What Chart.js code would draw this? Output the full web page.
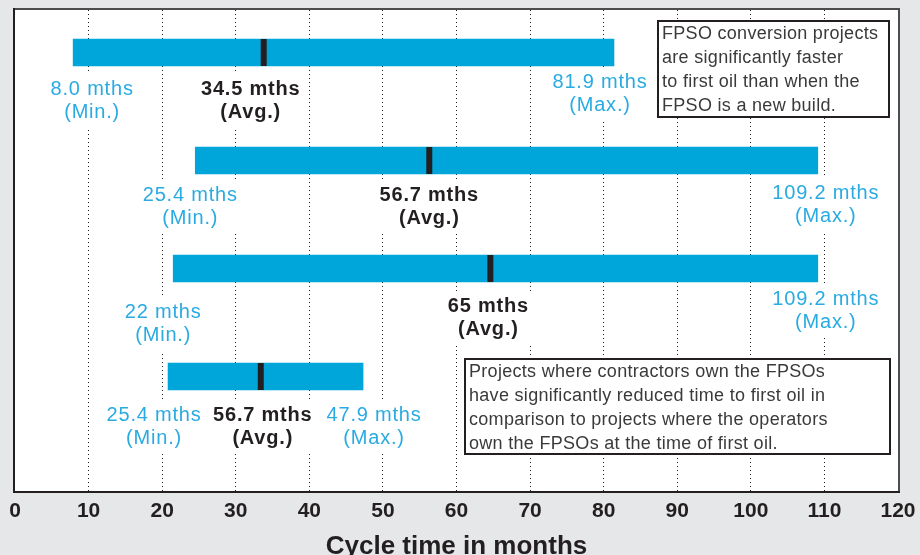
<!DOCTYPE html>
<html>
<head>
<meta charset="utf-8">
<script src="https://cdn.jsdelivr.net/npm/chart.js@4.4.1/dist/chart.umd.min.js"></script>
<style>
  html, body { margin: 0; padding: 0; background: #e6e7e8; }
  #wrap { width: 920px; height: 555px; }
</style>
</head>
<body>
<div id="wrap"><canvas id="cycle" width="920" height="555"></canvas></div>
<script>
// one row per project group, top to bottom
const rows = [0, 1, 2, 3];
const minVals = [7.9, 24.5, 21.5, 20.8];
const avgVals = [33.8, 56.3, 64.6, 33.4];
const maxVals = [81.4, 109.1, 109.1, 47.3];

const minText = ['8.0 mths', '25.4 mths', '22 mths', '25.4 mths'];
const avgText = ['34.5 mths', '56.7 mths', '65 mths', '56.7 mths'];
const maxText = ['81.9 mths', '109.2 mths', '109.2 mths', '47.9 mths'];

const xTicks = [0, 10, 20, 30, 40, 50, 60, 70, 80, 90, 100, 110, 120];

const noteTop = ['FPSO conversion projects', 'are significantly faster',
    'to first oil than when the', 'FPSO is a new build.'];
const noteBottom = ['Projects where contractors own the FPSOs',
    'have significantly reduced time to first oil in',
    'comparison to projects where the operators',
    'own the FPSOs at the time of first oil.'];

const BLUE_BAR = '#00a6da';
const BLUE_TEXT = '#29abe2';
const INK = '#231f20';
const FONT = "'Liberation Sans', Arial, sans-serif";

// hand placement of the value labels (pixels, relative to value / bar bottom)
const nudge = {
    min: [[19, 23], [-5, 21], [-10, 30], [-14, 25]],
    avg: [[-13, 23], [0, 21], [-2, 24], [2, 25]],
    max: [[-14, 16], [8, 19], [8, 17], [11, 25]]
};

const frame = {
    id: 'frame',
    beforeDraw(chart) {
        const ctx = chart.ctx, a = chart.chartArea;
        ctx.save();
        ctx.fillStyle = '#e6e7e8';
        ctx.fillRect(0, 0, chart.width, chart.height);
        ctx.fillStyle = '#ffffff';
        ctx.fillRect(a.left, a.top, a.right - a.left, a.bottom - a.top);
        ctx.restore();
    },
    afterDraw(chart) {
        const ctx = chart.ctx, a = chart.chartArea;
        ctx.save();
        ctx.lineWidth = 2;
        ctx.strokeStyle = '#4d4d4f';
        ctx.beginPath();
        ctx.moveTo(a.left - 1, a.top - 1);
        ctx.lineTo(a.right + 1, a.top - 1);
        ctx.lineTo(a.right + 1, a.bottom + 1);
        ctx.stroke();
        ctx.strokeStyle = INK;
        ctx.beginPath();
        ctx.moveTo(a.left - 1, a.top - 2);
        ctx.lineTo(a.left - 1, a.bottom + 1);
        ctx.lineTo(a.right + 2, a.bottom + 1);
        ctx.stroke();
        ctx.restore();
    }
};

function drawNote(ctx, lines, x, y, w, h, lineH) {
    ctx.fillStyle = '#ffffff';
    ctx.fillRect(x, y, w, h);
    ctx.lineWidth = 2;
    ctx.strokeStyle = INK;
    ctx.strokeRect(x, y, w, h);
    ctx.fillStyle = '#3a3a3a';
    ctx.font = '18px ' + FONT;
    ctx.textAlign = 'left';
    ctx.textBaseline = 'middle';
    ctx.letterSpacing = '0.3px';
    lines.forEach((t, i) => ctx.fillText(t, x + 4, y + 13 + i * lineH));
}

const labels = {
    id: 'labels',
    beforeDatasetsDraw(chart) {
        const ctx = chart.ctx;
        const xs = chart.scales.x, ys = chart.scales.y;
        const half = 13.5;
        ctx.save();
        ctx.textAlign = 'center';
        ctx.textBaseline = 'middle';
        const groups = [
            ['min', minVals, minText, 'Min.', BLUE_TEXT, 'normal'],
            ['avg', avgVals, avgText, 'Avg.', INK, 'bold'],
            ['max', maxVals, maxText, 'Max.', BLUE_TEXT, 'normal']
        ];
        // white knock-outs first so the dotted grid breaks behind the text
        const items = [];
        rows.forEach((r, i) => {
            const base = ys.getPixelForValue(r) + half;
            groups.forEach(([key, vals, txt, tag, color, weight]) => {
                const [dx, dy] = nudge[key][i];
                items.push({
                    x: xs.getPixelForValue(vals[i]) + dx,
                    y: base + dy,
                    a: txt[i], b: '(' + tag + ')', color, weight
                });
            });
        });
        items.forEach(it => {
            ctx.font = it.weight + ' 20px ' + FONT;
            ctx.letterSpacing = '0.8px';
            const w = Math.max(ctx.measureText(it.a).width, ctx.measureText(it.b).width);
            ctx.fillStyle = '#ffffff';
            ctx.fillRect(it.x - w / 2 - 4, it.y - 15, w + 8, 54);
        });
        items.forEach(it => {
            ctx.font = it.weight + ' 20px ' + FONT;
            ctx.letterSpacing = '0.8px';
            ctx.fillStyle = it.color;
            ctx.fillText(it.a, it.x, it.y);
            ctx.fillText(it.b, it.x, it.y + 23);
        });

        drawNote(ctx, noteTop, 658, 21, 231, 96, 24);
        drawNote(ctx, noteBottom, 465, 359, 425, 95, 24);
        ctx.restore();
    }
};

new Chart(document.getElementById('cycle'), {
    type: 'bar',
    data: {
        datasets: [
            {
                type: 'bar',
                data: rows.map((r, i) => ({ x: [minVals[i], maxVals[i]], y: r })),
                backgroundColor: BLUE_BAR,
                borderWidth: 0,
                borderSkipped: false,
                barThickness: 27,
                order: 2
            },
            {
                type: 'scatter',
                data: rows.map((r, i) => ({ x: avgVals[i], y: r })),
                pointStyle: 'line',
                rotation: 90,
                radius: 13.5,
                borderWidth: 6,
                borderColor: INK,
                backgroundColor: INK,
                order: 1
            }
        ]
    },
    options: {
        indexAxis: 'y',
        responsive: false,
        animation: false,
        devicePixelRatio: 1,
        layout: { autoPadding: false, padding: { left: 15, right: 22, top: 10, bottom: 0 } },
        plugins: {
            legend: { display: false },
            tooltip: { enabled: false }
        },
        scales: {
            x: {
                type: 'linear',
                offset: false,
                min: 0,
                max: 120,
                afterBuildTicks: s => { s.ticks = xTicks.map(v => ({ value: v })); },
                afterFit: s => {
                    s.height = 64;
                    s.paddingLeft = 0;
                    s.paddingRight = 0;
                },
                grid: {
                    offset: false,
                    color: c => (c.tick && (c.tick.value === 0 || c.tick.value === 120)) ? 'rgba(0,0,0,0)' : INK,
                    lineWidth: 1,
                    drawTicks: false
                },
                border: { display: false, dash: [1, 3] },
                ticks: {
                    padding: 10,
                    color: INK,
                    font: { family: FONT, size: 21, weight: 'bold', lineHeight: 1 },
                    maxRotation: 0
                },
                title: {
                    display: true,
                    text: 'Cycle time in months',
                    color: INK,
                    font: { family: FONT, size: 26, weight: 'bold', lineHeight: 1 },
                    padding: { top: 0, bottom: -5 }
                }
            },
            y: {
                type: 'linear',
                reverse: true,
                offset: false,
                min: -0.3935,
                max: 4.06,
                display: false,
                grid: { display: false, offset: false }
            }
        }
    },
    plugins: [frame, labels]
});
</script>
</body>
</html>
